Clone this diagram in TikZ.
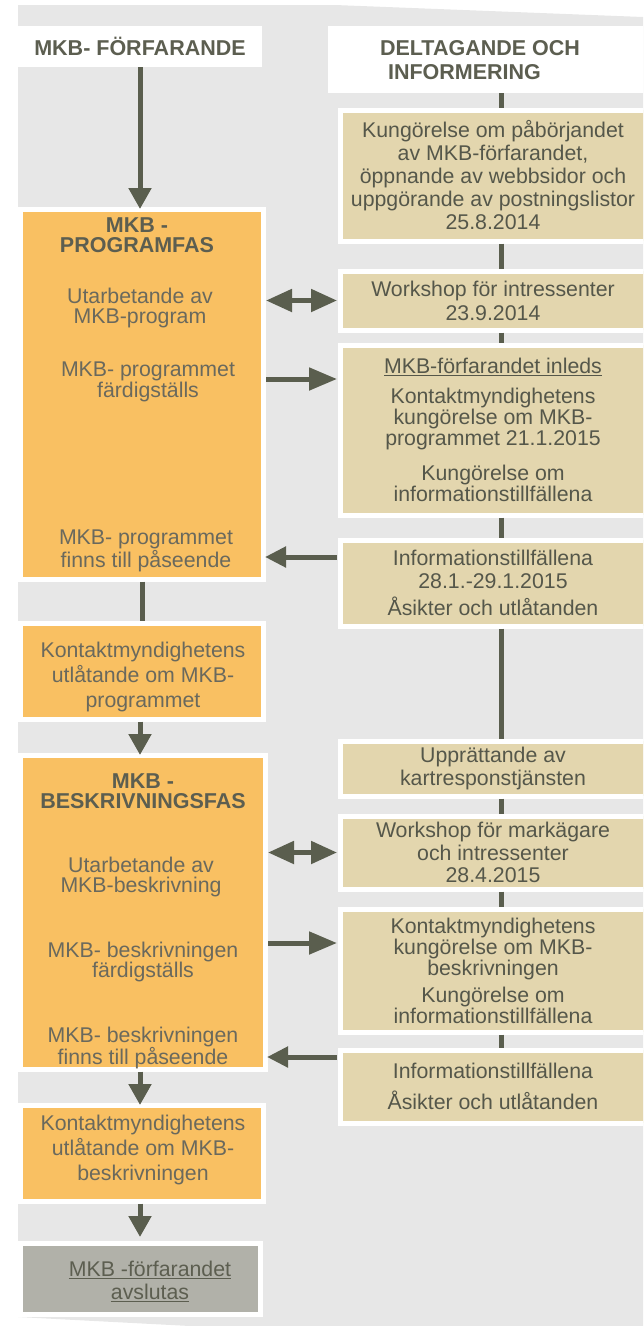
\documentclass[tikz,border=0pt]{standalone}
\usepackage{fontspec}
\setmainfont{Liberation Sans}
\usetikzlibrary{arrows.meta}
\definecolor{bgc}{HTML}{E7E7E7}
\definecolor{orng}{HTML}{F9C062}
\definecolor{tanbox}{HTML}{E3D6AE}
\definecolor{endgray}{HTML}{B1B1A9}
\definecolor{arrc}{HTML}{5A5E4E}
\definecolor{txtd}{HTML}{55574A}
\definecolor{txto}{HTML}{6A695D}
\definecolor{hdrc}{HTML}{5C5E50}
\newcommand{\myfs}[1]{\fontsize{21.3}{#1}\selectfont}
\newcommand{\myfb}[1]{\fontsize{21.5}{#1}\selectfont}
\begin{document}
\begin{tikzpicture}[x=1pt,y=-1pt,
  every node/.style={font=\myfs{22.5}},
  hdr/.style={fill=white, inner sep=0pt, outer sep=0pt, text=hdrc, font=\bfseries\myfb{24}},
  obox/.style={fill=orng, draw=white, line width=5pt, inner sep=0pt, outer sep=0pt},
  gbox/.style={fill=endgray, draw=white, line width=5pt, inner sep=0pt, outer sep=0pt},
  rbox/.style={fill=tanbox, draw=white, line width=5pt, inner sep=0pt, outer sep=0pt, text=txtd, align=center, minimum width=306pt},
  otxt/.style={text=txto, align=center, inner sep=0pt, font=\myfs{20.5}},
  otitle/.style={text=hdrc, align=center, inner sep=0pt, font=\bfseries\myfb{20}},
  gtxt/.style={text=hdrc, align=center, inner sep=0pt, font=\myfs{23}},
  conn/.style={draw=arrc, line width=5pt},
  dn/.style={conn, -{Triangle[length=21pt,width=22pt]}},
  rt/.style={conn, -{Triangle[length=28pt,width=22pt]}, shorten <=3pt, shorten >=3pt},
  lt/.style={conn, -{Triangle[length=21pt,width=20pt]}, shorten <=3pt, shorten >=2pt},
  bi/.style={conn, {Triangle[length=26pt,width=22pt]}-{Triangle[length=26pt,width=22pt]}, shorten <=3pt, shorten >=3pt},
  vl/.style={conn, shorten <=2.5pt, shorten >=2.5pt}
]
\useasboundingbox (0,0) rectangle (643,1326);
\clip (0,0) rectangle (643,1326);
\fill[bgc] (18,5) -- (335,5) -- (643,17) -- (643,1326) -- (190,1326) -- (18,1317) -- cycle;

% headers
\node[hdr, minimum width=244pt, minimum height=41pt] (Lh) at (140,46.5) {MKB- FÖRFARANDE};
\node[hdr, minimum width=320pt, minimum height=67pt] (Rh) at (488,59.5) {};
\node[hdr, fill=none, align=left] (RhT) at (480,60) {DELTAGANDE OCH\\\hspace*{8pt}INFORMERING};

% left column
\node[obox, minimum width=243pt, minimum height=370pt] (O1) at (141.5,394) {};
\node[otitle] (O1t) at (137,235) {MKB -\\PROGRAMFAS};
\node[otxt] (O1a) at (140,308) {Utarbetande av\\MKB-program};
\node[otxt] (O1b) at (148,382) {MKB- programmet\\färdigställs};
\node[otxt] (O1c) at (146,551) {MKB- programmet\\finns till påseende};

\node[obox, minimum width=243pt, minimum height=96pt] (O2) at (141.5,671) {};
\node[otxt, font=\myfs{25}] (O2t) at (143,677) {Kontaktmyndighetens\\utlåtande om MKB-\\programmet};

\node[obox, minimum width=245pt, minimum height=314pt] (O3) at (142.5,912) {};
\node[otitle] (O3t) at (143,791) {MKB -\\BESKRIVNINGSFAS};
\node[otxt] (O3a) at (141,877) {Utarbetande av\\MKB-beskrivning};
\node[otxt] (O3b) at (143,962) {MKB- beskrivningen\\färdigställs};
\node[otxt] (O3c) at (143,1048) {MKB- beskrivningen\\finns till påseende};

\node[obox, minimum width=243pt, minimum height=96pt] (O4) at (141.5,1153) {};
\node[otxt, font=\myfs{25}] (O4t) at (143,1150) {Kontaktmyndighetens\\utlåtande om MKB-\\beskrivningen};

\node[gbox, minimum width=240pt, minimum height=71pt] (G) at (140,1278.5) {};
\node[gtxt] (Gt) at (150,1281) {\underline{MKB -förfarandet}\\\underline{avslutas}};

% right column
\node[rbox, minimum height=131pt, font=\myfs{23}] (R1) at (493,175.5) {Kungörelse om påbörjandet\\av MKB-förfarandet,\\öppnande av webbsidor och\\uppgörande av postningslistor\\25.8.2014};
\node[rbox, minimum height=59pt, font=\myfs{24}] (R2) at (493,300.5) {Workshop för intressenter\\23.9.2014};
\node[rbox, minimum height=170pt, font=\myfs{21}] (R3) at (493,430) {\underline{MKB-förfarandet inleds}\\[9pt]Kontaktmyndighetens\\kungörelse om MKB-\\programmet 21.1.2015\\[14pt]Kungörelse om\\informationstillfällena};
\node[rbox, minimum height=86pt, font=\myfs{22.5}] (R4) at (493,583) {Informationstillfällena\\28.1.-29.1.2015\\[5pt]Åsikter och utlåtanden};
\node[rbox, minimum height=55pt, font=\myfs{23}] (R5) at (493,768.5) {Upprättande av\\kartresponstjänsten};
\node[rbox, minimum height=73pt, font=\myfs{22.5}] (R6) at (493,852.5) {Workshop för markägare\\och intressenter\\28.4.2015};
\node[rbox, minimum height=123pt, font=\myfs{21}] (R7) at (493,970.5) {Kontaktmyndighetens\\kungörelse om MKB-\\beskrivningen\\[6pt]Kungörelse om\\informationstillfällena};
\node[rbox, minimum height=73pt, font=\myfs{22}] (R8) at (493,1086.5) {Informationstillfällena\\[9pt]Åsikter och utlåtanden};

% helper coordinates
\coordinate (vx) at (501,0);
\coordinate (lx) at (140,0);
\coordinate (lx2) at (142,0);
\coordinate (y1) at (0,379);
\coordinate (y2) at (0,557);
\coordinate (y3) at (0,943);
\coordinate (y4) at (0,1057);

% right vertical line
\draw[conn, shorten >=2.5pt] (Rh.south -| vx) -- (R1.north -| vx);
\draw[vl] (R1.south -| vx) -- (R2.north -| vx);
\draw[vl] (R2.south -| vx) -- (R3.north -| vx);
\draw[vl] (R3.south -| vx) -- (R4.north -| vx);
\draw[vl] (R4.south -| vx) -- (R5.north -| vx);
\draw[vl] (R5.south -| vx) -- (R6.north -| vx);
\draw[vl] (R6.south -| vx) -- (R7.north -| vx);
\draw[vl] (R7.south -| vx) -- (R8.north -| vx);

% left vertical flow
\draw[dn] (Lh.south -| lx) -- (O1.north -| lx);
\draw[vl] (O1.south -| lx2) -- (O2.north -| lx2);
\draw[dn, shorten <=2.5pt] (O2.south -| lx) -- (O3.north -| lx);
\draw[dn, shorten <=2.5pt] (O3.south -| lx) -- (O4.north -| lx);
\draw[dn, shorten <=2.5pt, shorten >=6pt] (O4.south -| lx) -- (G.north -| lx);

% horizontal arrows
\draw[bi] (O1.east |- R2.west) -- (R2.west);
\draw[rt] (O1.east |- y1) -- (R3.west |- y1);
\draw[lt] (R4.west |- y2) -- (O1.east |- y2);
\draw[bi] (O3.east |- R6.west) -- (R6.west);
\draw[rt] (O3.east |- y3) -- (R7.west |- y3);
\draw[lt] (R8.west |- y4) -- (O3.east |- y4);
\end{tikzpicture}
\end{document}
